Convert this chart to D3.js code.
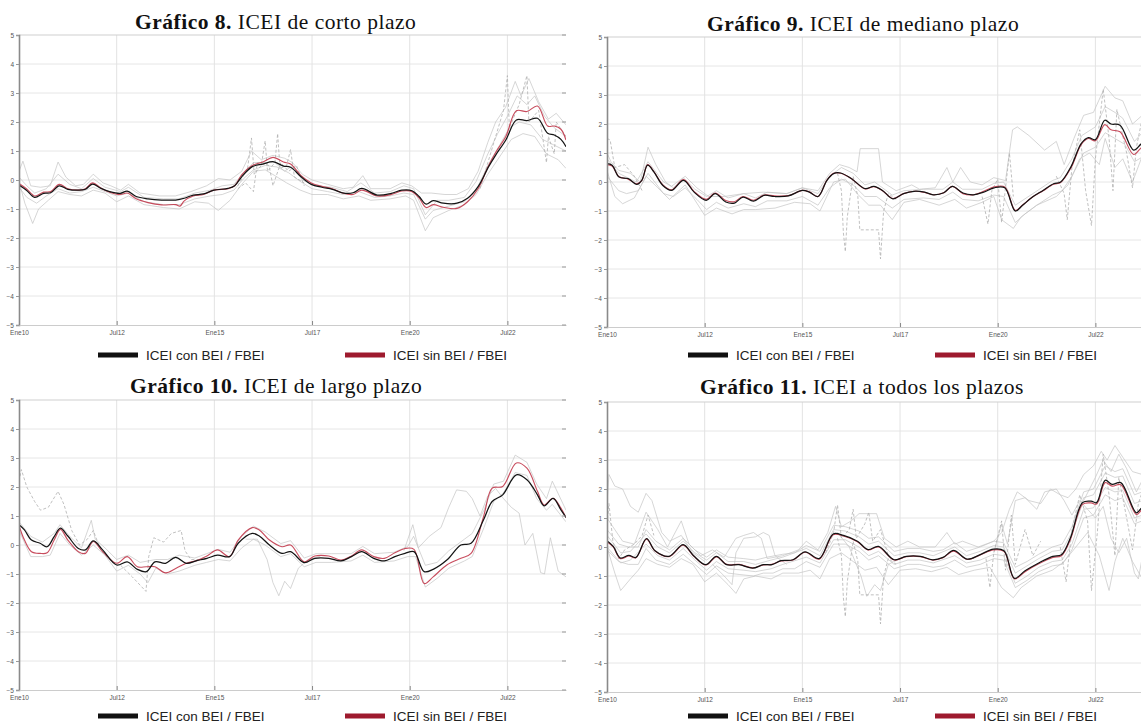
<!DOCTYPE html>
<html>
<head>
<meta charset="utf-8">
<script src="https://cdn.jsdelivr.net/npm/d3@7"></script>
<style>
body { margin: 0; background: #fff; }
svg { display: block; }
</style>
</head>
<body>
<svg id="chart" width="1141" height="726"></svg>
<script>
// tick labels and titles
const tickYears = [2010, 2012.5, 2015, 2017.5, 2020, 2022.5];
const tickLabels = ["Ene10", "Jul12", "Ene15", "Jul17", "Ene20", "Jul22"];
const yTicks = [-5, -4, -3, -2, -1, 0, 1, 2, 3, 4, 5];
const legendLabels = ["ICEI con BEI / FBEI", "ICEI sin BEI / FBEI"];
const titleBold = ["Gráfico 8.", "Gráfico 9.", "Gráfico 10.", "Gráfico 11."];
const titleText = ["ICEI de corto plazo", "ICEI de mediano plazo", "ICEI de largo plazo", "ICEI a todos los plazos"];

// ---- Gráfico 8: corto plazo ([year, value]) ----
const p1Black = [[2010.0,-0.17],[2010.19,-0.35],[2010.4,-0.6],[2010.63,-0.46],[2010.81,-0.44],[2011.03,-0.2],[2011.25,-0.32],[2011.52,-0.35],[2011.7,-0.32],[2011.88,-0.14],[2012.1,-0.29],[2012.32,-0.4],[2012.59,-0.46],[2012.77,-0.38],[2013.0,-0.57],[2013.3,-0.65],[2013.65,-0.69],[2014.01,-0.69],[2014.23,-0.63],[2014.46,-0.52],[2014.72,-0.48],[2014.99,-0.35],[2015.35,-0.29],[2015.52,-0.2],[2015.7,0.11],[2015.97,0.46],[2016.24,0.55],[2016.5,0.63],[2016.77,0.48],[2016.95,0.44],[2017.22,0.11],[2017.48,-0.15],[2017.75,-0.25],[2018.02,-0.32],[2018.28,-0.44],[2018.55,-0.44],[2018.77,-0.29],[2019.17,-0.52],[2019.53,-0.46],[2019.8,-0.35],[2020.06,-0.37],[2020.24,-0.57],[2020.42,-0.83],[2020.6,-0.71],[2020.86,-0.8],[2021.21,-0.8],[2021.48,-0.63],[2021.75,-0.23],[2022.02,0.46],[2022.2,0.86],[2022.46,1.38],[2022.73,2.07],[2023.0,2.05],[2023.27,2.13],[2023.53,1.61],[2023.7,1.55],[2023.87,1.4],[2024.0,1.15]];
const p1Red = [[2010.0,-0.12],[2010.19,-0.3],[2010.4,-0.55],[2010.63,-0.42],[2010.81,-0.4],[2011.03,-0.15],[2011.25,-0.3],[2011.52,-0.35],[2011.7,-0.3],[2011.88,-0.1],[2012.1,-0.28],[2012.32,-0.42],[2012.59,-0.5],[2012.77,-0.45],[2013.0,-0.65],[2013.3,-0.78],[2013.65,-0.86],[2014.01,-0.85],[2014.12,-0.9],[2014.23,-0.72],[2014.46,-0.55],[2014.72,-0.5],[2014.99,-0.35],[2015.35,-0.3],[2015.52,-0.2],[2015.7,0.18],[2015.97,0.5],[2016.24,0.62],[2016.5,0.78],[2016.77,0.62],[2016.95,0.55],[2017.22,0.15],[2017.48,-0.1],[2017.75,-0.22],[2018.02,-0.3],[2018.28,-0.45],[2018.55,-0.5],[2018.77,-0.35],[2019.17,-0.55],[2019.53,-0.5],[2019.8,-0.38],[2020.06,-0.4],[2020.24,-0.62],[2020.42,-0.95],[2020.6,-0.85],[2020.86,-0.94],[2021.21,-0.98],[2021.48,-0.75],[2021.75,-0.3],[2022.02,0.5],[2022.2,0.95],[2022.46,1.5],[2022.73,2.39],[2023.0,2.36],[2023.27,2.55],[2023.53,1.86],[2023.7,1.86],[2023.87,1.75],[2024.0,1.38]];
const p1Gray = [
  [[2010,0.3],[2010.1,0.65],[2010.3,-0.2],[2010.55,-0.25],[2010.8,-0.2],[2011.0,0.62],[2011.2,0.1],[2011.45,-0.2],[2011.65,-0.15],[2011.9,0.2],[2012.15,-0.1],[2012.35,-0.2],[2012.6,-0.35],[2012.8,-0.15],[2013.1,-0.45],[2013.6,-0.55],[2014.0,-0.55],[2014.4,-0.4],[2014.8,-0.2],[2015.1,0.05],[2015.4,0.0],[2015.7,0.3],[2015.95,1.0],[2016.2,0.7],[2016.5,0.85],[2016.8,0.75],[2017.0,0.6],[2017.25,0.2],[2017.5,0.0],[2017.9,-0.15],[2018.3,-0.3],[2018.55,-0.25],[2018.8,0.15],[2019.0,-0.3],[2019.5,-0.3],[2019.8,-0.1],[2020.05,-0.2],[2020.3,-0.45],[2020.55,-0.45],[2020.9,-0.5],[2021.2,-0.5],[2021.5,-0.3],[2021.75,0.3],[2022.0,1.3],[2022.2,2.0],[2022.45,2.5],[2022.7,3.4],[2022.85,2.9],[2023.05,3.5],[2023.3,2.7],[2023.55,2.1],[2023.75,2.3],[2024,1.9]],
  [[2010,-0.05],[2010.15,-0.8],[2010.35,-1.5],[2010.5,-1.0],[2010.75,-0.7],[2011.0,-0.4],[2011.3,-0.5],[2011.6,-0.55],[2011.9,-0.35],[2012.2,-0.45],[2012.5,-0.75],[2012.8,-0.55],[2013.2,-0.85],[2013.7,-0.95],[2014.1,-1.0],[2014.5,-0.75],[2014.85,-0.8],[2015.1,-1.05],[2015.4,-0.7],[2015.7,-0.15],[2016.0,0.3],[2016.3,0.35],[2016.55,0.15],[2016.85,-0.1],[2017.2,-0.35],[2017.5,-0.5],[2017.9,-0.5],[2018.3,-0.65],[2018.7,-0.55],[2019.0,-0.7],[2019.5,-0.65],[2019.9,-0.55],[2020.1,-0.7],[2020.4,-1.75],[2020.6,-1.3],[2021.0,-1.05],[2021.4,-0.85],[2021.7,-0.5],[2022.0,0.2],[2022.3,0.8],[2022.6,1.4],[2022.9,1.6],[2023.2,1.5],[2023.5,0.9],[2023.8,0.7],[2024,0.4]],
  [[2010,0.1],[2010.2,-0.2],[2010.4,-0.45],[2010.7,-0.3],[2011.0,0.2],[2011.3,-0.15],[2011.6,-0.3],[2011.9,0.05],[2012.2,-0.25],[2012.6,-0.4],[2012.8,-0.25],[2013.2,-0.6],[2013.7,-0.65],[2014.1,-0.65],[2014.5,-0.45],[2014.9,-0.35],[2015.2,-0.2],[2015.5,-0.15],[2015.75,0.25],[2016.0,0.6],[2016.3,0.6],[2016.55,0.6],[2016.8,0.3],[2017.0,0.5],[2017.25,0.0],[2017.6,-0.2],[2018.0,-0.25],[2018.4,-0.4],[2018.75,-0.1],[2019.1,-0.45],[2019.5,-0.4],[2019.85,-0.2],[2020.1,-0.3],[2020.4,-1.2],[2020.7,-0.7],[2021.0,-0.7],[2021.4,-0.6],[2021.7,-0.05],[2022.0,0.9],[2022.25,1.6],[2022.5,2.2],[2022.75,2.9],[2023.0,2.6],[2023.2,2.9],[2023.45,2.2],[2023.7,1.8],[2024,1.5]],
  [[2010,-0.25],[2010.2,-0.6],[2010.45,-0.8],[2010.7,-0.55],[2011.0,-0.3],[2011.3,-0.45],[2011.6,-0.4],[2011.9,-0.25],[2012.2,-0.4],[2012.5,-0.55],[2012.8,-0.45],[2013.2,-0.75],[2013.7,-0.85],[2014.1,-0.85],[2014.5,-0.65],[2014.9,-0.55],[2015.2,-0.5],[2015.5,-0.35],[2015.75,0.05],[2016.0,0.35],[2016.3,0.5],[2016.6,0.45],[2016.9,0.25],[2017.2,-0.05],[2017.5,-0.3],[2017.9,-0.4],[2018.3,-0.5],[2018.7,-0.4],[2019.1,-0.6],[2019.5,-0.55],[2019.85,-0.45],[2020.1,-0.5],[2020.4,-1.35],[2020.6,-1.05],[2021.0,-0.9],[2021.4,-0.75],[2021.7,-0.35],[2022.0,0.5],[2022.3,1.2],[2022.55,1.8],[2022.8,2.0],[2023.1,1.9],[2023.4,1.4],[2023.7,1.2],[2024,1.0]]
];
const p1Dash = [
  [[2015.6,-0.2],[2015.85,0.4],[2015.95,1.45],[2016.02,0.2],[2016.2,0.5],[2016.3,1.35],[2016.36,0.3],[2016.55,0.6],[2016.62,1.6],[2016.68,0.4],[2016.85,0.5],[2016.95,1.05],[2017.05,0.1],[2017.3,-0.1]],
  [[2015.6,-0.3],[2015.8,-0.1],[2016.0,-0.4],[2016.1,0.6],[2016.4,0.5],[2016.5,-0.2],[2016.7,0.6],[2016.9,0.3],[2017.1,0.5],[2017.3,-0.2]],
  [[2021.8,-0.3],[2022.0,0.6],[2022.2,1.5],[2022.4,2.4],[2022.5,3.6],[2022.55,1.8],[2022.8,2.6],[2023.0,3.6],[2023.05,2.0],[2023.3,2.4],[2023.5,0.6],[2023.55,1.5],[2023.7,0.9],[2023.75,2.0],[2024,1.5]]
];

// ---- Gráfico 9: mediano plazo ----
const p2Black = [[2010.0,0.63],[2010.13,0.58],[2010.31,0.17],[2010.54,0.12],[2010.76,-0.08],[2010.89,0.06],[2011.04,0.58],[2011.2,0.35],[2011.43,-0.12],[2011.65,-0.29],[2011.96,0.06],[2012.23,-0.35],[2012.54,-0.63],[2012.77,-0.4],[2013.04,-0.69],[2013.26,-0.73],[2013.48,-0.52],[2013.75,-0.66],[2014.02,-0.46],[2014.29,-0.5],[2014.64,-0.48],[2015.0,-0.29],[2015.18,-0.35],[2015.4,-0.5],[2015.63,0.06],[2015.8,0.29],[2015.98,0.31],[2016.25,0.12],[2016.61,-0.23],[2016.83,-0.15],[2017.05,-0.29],[2017.32,-0.58],[2017.59,-0.4],[2017.86,-0.32],[2018.13,-0.35],[2018.35,-0.44],[2018.62,-0.37],[2018.84,-0.15],[2019.11,-0.38],[2019.38,-0.44],[2019.64,-0.35],[2019.91,-0.2],[2020.18,-0.2],[2020.45,-1.0],[2020.63,-0.81],[2020.89,-0.52],[2021.16,-0.29],[2021.43,-0.06],[2021.61,0.0],[2021.88,0.54],[2022.14,1.33],[2022.32,1.53],[2022.5,1.46],[2022.74,2.13],[2022.9,2.0],[2023.13,1.96],[2023.48,1.1],[2023.7,1.33],[2023.82,1.27],[2024.0,1.1]];
const p2Red = [[2010.0,0.6],[2010.13,0.55],[2010.31,0.18],[2010.54,0.1],[2010.76,-0.06],[2010.89,0.05],[2011.04,0.6],[2011.2,0.36],[2011.43,-0.1],[2011.65,-0.27],[2011.96,0.08],[2012.23,-0.33],[2012.54,-0.6],[2012.77,-0.38],[2013.04,-0.64],[2013.26,-0.68],[2013.48,-0.5],[2013.75,-0.63],[2014.02,-0.45],[2014.29,-0.48],[2014.64,-0.47],[2015.0,-0.29],[2015.18,-0.34],[2015.4,-0.5],[2015.63,0.07],[2015.8,0.3],[2015.98,0.3],[2016.25,0.12],[2016.61,-0.24],[2016.83,-0.16],[2017.05,-0.3],[2017.32,-0.57],[2017.59,-0.4],[2017.86,-0.32],[2018.13,-0.36],[2018.35,-0.44],[2018.62,-0.37],[2018.84,-0.15],[2019.11,-0.4],[2019.38,-0.44],[2019.64,-0.32],[2019.91,-0.17],[2020.18,-0.17],[2020.45,-0.98],[2020.63,-0.8],[2020.89,-0.52],[2021.16,-0.3],[2021.43,-0.08],[2021.61,-0.02],[2021.88,0.5],[2022.14,1.3],[2022.32,1.5],[2022.5,1.42],[2022.74,1.98],[2022.9,1.8],[2023.13,1.73],[2023.48,0.95],[2023.7,1.2],[2023.82,1.1],[2024.0,1.0]];
const p2Gray = [
  [[2010,1.0],[2010.1,0.7],[2010.3,0.4],[2010.6,0.3],[2010.85,0.0],[2011.05,1.2],[2011.25,0.6],[2011.5,0.0],[2011.7,-0.2],[2012.0,0.2],[2012.3,-0.2],[2012.6,-0.5],[2013.0,-0.5],[2013.5,-0.4],[2014.0,-0.35],[2014.6,-0.4],[2015.0,-0.2],[2015.4,-0.3],[2015.7,0.3],[2015.95,0.6],[2016.2,0.5],[2016.4,0.35],[2016.48,1.15],[2016.95,1.15],[2017.05,0.0],[2017.4,-0.3],[2017.8,-0.1],[2018.0,-0.25],[2018.4,-0.2],[2018.7,0.5],[2018.85,0.0],[2019.05,0.5],[2019.3,0.0],[2019.6,-0.1],[2019.9,0.15],[2020.2,0.05],[2020.38,1.8],[2020.5,1.9],[2020.8,1.6],[2021.2,1.1],[2021.5,1.4],[2021.7,0.6],[2021.95,1.5],[2022.2,2.3],[2022.45,2.4],[2022.75,3.3],[2023.0,2.9],[2023.2,2.8],[2023.45,2.0],[2023.7,2.3],[2024,1.8]],
  [[2010,0.4],[2010.2,-0.5],[2010.4,-0.75],[2010.7,-0.55],[2011.0,0.2],[2011.3,-0.2],[2011.6,-0.6],[2012.0,-0.1],[2012.5,-1.15],[2012.8,-0.9],[2013.2,-1.1],[2013.5,-0.95],[2013.8,-0.95],[2014.3,-0.9],[2014.8,-0.7],[2015.2,-0.75],[2015.45,-1.0],[2015.8,0.0],[2016.1,0.1],[2016.4,-0.4],[2016.7,-0.8],[2017.0,-0.8],[2017.3,-1.3],[2017.6,-0.7],[2018.0,-0.6],[2018.5,-0.8],[2018.9,-0.6],[2019.2,-0.9],[2019.6,-0.7],[2019.9,-0.5],[2020.1,-1.3],[2020.4,-1.6],[2020.6,-1.2],[2021.0,-0.8],[2021.5,-0.5],[2021.8,-0.1],[2022.1,0.8],[2022.35,1.0],[2022.6,0.6],[2022.75,1.5],[2023.0,0.5],[2023.2,0.8],[2023.45,0.0],[2023.7,0.9],[2024,0.6]],
  [[2010,0.8],[2010.3,0.3],[2010.75,0.0],[2011.05,0.7],[2011.45,0.0],[2011.65,-0.15],[2011.95,0.15],[2012.25,-0.25],[2012.55,-0.5],[2012.8,-0.3],[2013.1,-0.55],[2013.5,-0.4],[2013.8,-0.55],[2014.1,-0.35],[2014.6,-0.4],[2015.0,-0.2],[2015.4,-0.4],[2015.7,0.2],[2016.0,0.5],[2016.3,0.3],[2016.6,-0.1],[2016.85,0.0],[2017.3,-0.45],[2017.6,-0.3],[2018.1,-0.25],[2018.6,-0.25],[2018.85,0.0],[2019.1,-0.25],[2019.6,-0.25],[2019.9,-0.05],[2020.15,0.0],[2020.45,-0.8],[2020.9,-0.4],[2021.4,0.05],[2021.6,0.15],[2021.9,0.8],[2022.15,1.6],[2022.5,1.9],[2022.75,2.6],[2023.0,2.4],[2023.2,2.2],[2023.5,1.4],[2023.7,1.7],[2024,1.4]],
  [[2010,0.2],[2010.3,-0.3],[2010.5,-0.4],[2010.8,-0.3],[2011.05,0.3],[2011.45,-0.4],[2011.7,-0.5],[2012.0,-0.2],[2012.3,-0.6],[2012.55,-0.95],[2012.8,-0.7],[2013.1,-0.9],[2013.5,-0.75],[2013.8,-0.85],[2014.1,-0.65],[2014.6,-0.65],[2015.0,-0.5],[2015.4,-0.8],[2015.7,-0.2],[2016.0,0.1],[2016.3,-0.1],[2016.6,-0.5],[2016.9,-0.5],[2017.3,-0.9],[2017.6,-0.6],[2018.1,-0.55],[2018.5,-0.6],[2018.85,-0.35],[2019.1,-0.6],[2019.5,-0.65],[2019.9,-0.45],[2020.15,-0.5],[2020.45,-1.4],[2020.7,-1.1],[2021.0,-0.8],[2021.4,-0.45],[2021.65,-0.3],[2021.9,0.2],[2022.2,1.0],[2022.5,1.2],[2022.75,1.7],[2023.0,1.5],[2023.25,1.3],[2023.5,0.7],[2023.75,0.9],[2024,0.8]]
];
const p2Dash = [
  [[2010,1.5],[2010.08,1.45],[2010.2,0.5],[2010.45,0.6],[2010.7,0.2],[2010.9,-0.3]],
  [[2015.9,0.3],[2016.0,-0.3],[2016.05,-1.75],[2016.1,-2.4],[2016.15,-1.2],[2016.3,0.2],[2016.42,-0.5],[2016.47,-1.65],[2016.95,-1.65],[2017.0,-2.65],[2017.08,-1.0],[2017.2,-0.4],[2017.4,-0.6]],
  [[2019.6,-0.5],[2019.75,-1.45],[2019.85,-0.3],[2020.0,0.1],[2020.1,-1.4],[2020.2,-0.2],[2020.3,1.0],[2020.4,-0.5]],
  [[2021.5,0.2],[2021.7,-0.4],[2021.78,-1.3],[2021.9,0.5],[2022.1,1.8],[2022.25,-0.3],[2022.4,-1.5],[2022.5,0.8],[2022.7,3.2],[2022.85,1.5],[2022.95,-0.3],[2023.05,2.5],[2023.3,1.0],[2023.45,-0.2],[2023.55,1.2],[2023.7,2.2]]
];

// ---- Gráfico 10: largo plazo ----
const p3Black = [[2010.01,0.69],[2010.14,0.52],[2010.32,0.17],[2010.54,0.06],[2010.72,-0.06],[2010.9,0.29],[2011.06,0.58],[2011.25,0.31],[2011.52,-0.12],[2011.7,-0.17],[2011.9,0.14],[2012.14,-0.17],[2012.5,-0.69],[2012.77,-0.58],[2013.03,-0.84],[2013.26,-0.92],[2013.48,-0.58],[2013.75,-0.63],[2014.01,-0.43],[2014.28,-0.63],[2014.55,-0.54],[2014.81,-0.46],[2015.08,-0.35],[2015.39,-0.4],[2015.61,0.06],[2015.97,0.4],[2016.15,0.31],[2016.41,0.0],[2016.73,-0.29],[2016.95,-0.23],[2017.3,-0.61],[2017.57,-0.46],[2017.93,-0.46],[2018.24,-0.55],[2018.51,-0.4],[2018.77,-0.23],[2019.08,-0.46],[2019.35,-0.55],[2019.62,-0.4],[2019.88,-0.29],[2020.11,-0.23],[2020.37,-0.92],[2020.6,-0.84],[2020.95,-0.52],[2021.31,0.0],[2021.57,0.06],[2021.89,0.87],[2022.11,1.5],[2022.38,1.73],[2022.73,2.42],[2023.0,2.25],[2023.27,1.73],[2023.44,1.35],[2023.67,1.61],[2023.87,1.21],[2024.0,0.95]];
const p3Red = [[2010.01,0.63],[2010.14,0.17],[2010.32,-0.23],[2010.54,-0.29],[2010.72,-0.27],[2010.9,0.17],[2011.06,0.54],[2011.25,0.17],[2011.52,-0.23],[2011.7,-0.29],[2011.9,0.12],[2012.14,-0.23],[2012.5,-0.63],[2012.77,-0.4],[2013.03,-0.75],[2013.26,-0.75],[2013.48,-0.75],[2013.75,-0.96],[2014.01,-0.81],[2014.28,-0.63],[2014.55,-0.54],[2014.81,-0.38],[2015.08,-0.17],[2015.39,-0.4],[2015.61,0.17],[2015.97,0.6],[2016.15,0.52],[2016.41,0.17],[2016.73,-0.06],[2016.95,0.0],[2017.3,-0.58],[2017.57,-0.38],[2017.93,-0.38],[2018.24,-0.52],[2018.51,-0.38],[2018.77,-0.17],[2019.08,-0.4],[2019.35,-0.46],[2019.62,-0.27],[2019.88,-0.12],[2020.11,-0.15],[2020.37,-1.33],[2020.6,-1.1],[2020.95,-0.69],[2021.31,-0.46],[2021.57,-0.29],[2021.89,0.98],[2022.11,1.96],[2022.38,2.02],[2022.73,2.83],[2023.0,2.65],[2023.27,1.85],[2023.44,1.38],[2023.67,1.61],[2023.87,1.27],[2024.0,0.95]];
const p3Gray = [
  [[2015.8,0.2],[2016.1,0.2],[2016.35,-0.5],[2016.5,-1.3],[2016.65,-1.75],[2016.8,-1.25],[2016.95,-1.5],[2017.15,-0.8],[2017.4,-0.5],[2017.7,-0.4]],
  [[2019.85,-0.2],[2020.08,0.7],[2020.22,-0.1],[2020.5,0.3],[2020.8,0.6],[2021.0,1.3],[2021.2,1.9],[2021.45,1.85],[2021.6,1.6],[2021.8,1.0],[2022.0,1.7],[2022.2,1.95],[2022.4,1.6],[2022.6,1.3],[2022.8,1.1],[2022.95,0.0],[2023.15,0.4],[2023.35,-0.95],[2023.45,-1.0],[2023.6,0.25],[2023.8,-0.9],[2024,-1.1]],
  [[2010,0.8],[2010.3,0.3],[2010.6,0.1],[2010.9,0.4],[2011.05,0.7],[2011.3,0.3],[2011.6,-0.1],[2011.85,0.85],[2011.95,0.2],[2012.2,-0.1],[2012.5,-0.5],[2012.8,-0.35],[2013.1,-0.6],[2013.5,-0.5],[2013.8,-0.5],[2014.1,-0.35],[2014.5,-0.45],[2014.8,-0.3],[2015.1,-0.15],[2015.4,-0.25],[2015.7,0.3],[2016.0,0.65],[2016.3,0.45],[2016.7,0.05],[2016.95,0.15],[2017.3,-0.45],[2017.6,-0.3],[2018.0,-0.3],[2018.5,-0.3],[2018.8,-0.05],[2019.1,-0.3],[2019.6,-0.25],[2019.95,-0.05],[2020.1,0.3],[2020.4,-0.7],[2020.7,-0.6],[2021.0,-0.2],[2021.4,0.2],[2021.6,0.4],[2021.9,1.2],[2022.15,2.1],[2022.4,2.2],[2022.7,3.1],[2023.0,2.85],[2023.25,2.1],[2023.5,1.6],[2023.65,2.2],[2024,1.2]],
  [[2010,0.5],[2010.3,-0.4],[2010.6,-0.4],[2010.8,-0.35],[2011.05,0.4],[2011.3,0.0],[2011.6,-0.35],[2011.9,0.0],[2012.2,-0.35],[2012.5,-0.9],[2012.8,-0.7],[2013.1,-1.0],[2013.3,-1.3],[2013.5,-0.8],[2013.8,-1.0],[2014.1,-0.9],[2014.5,-0.7],[2014.8,-0.6],[2015.1,-0.5],[2015.4,-0.55],[2015.7,-0.1],[2016.0,0.2],[2016.3,0.0],[2016.7,-0.4],[2016.95,-0.3],[2017.3,-0.75],[2017.6,-0.6],[2018.0,-0.6],[2018.5,-0.55],[2018.8,-0.35],[2019.1,-0.6],[2019.6,-0.55],[2019.95,-0.4],[2020.15,-0.4],[2020.4,-1.45],[2020.7,-1.15],[2021.0,-0.8],[2021.4,-0.55],[2021.6,-0.4],[2021.9,0.6],[2022.15,1.5],[2022.4,1.8],[2022.7,2.5],[2023.0,2.4],[2023.25,1.6],[2023.5,1.2],[2023.65,1.4],[2024,0.8]]
];
const p3Dash = [
  [[2010,2.2],[2010.06,2.6],[2010.2,2.0],[2010.4,1.5],[2010.55,1.2],[2010.75,1.3],[2011.0,1.85],[2011.15,1.4],[2011.35,0.5],[2011.55,0.0],[2011.75,0.2],[2011.9,0.5],[2012.1,-0.2],[2012.4,-0.6]],
  [[2012.6,-0.7],[2012.9,-1.1],[2013.25,-1.6],[2013.32,-0.4],[2013.45,0.25],[2013.7,0.1],[2013.9,0.4],[2014.15,0.5],[2014.25,-0.2],[2014.4,-0.5],[2014.7,-0.5]]
];

// ---- Gráfico 11: todos los plazos ----
const p4Black = [[2010.0,0.22],[2010.16,0.02],[2010.34,-0.38],[2010.56,-0.29],[2010.74,-0.36],[2011.01,0.29],[2011.23,-0.13],[2011.59,-0.32],[2011.95,0.08],[2012.21,-0.29],[2012.53,-0.61],[2012.8,-0.32],[2013.06,-0.61],[2013.38,-0.61],[2013.73,-0.73],[2014.0,-0.61],[2014.22,-0.61],[2014.45,-0.47],[2014.76,-0.44],[2015.07,-0.17],[2015.43,-0.4],[2015.79,0.45],[2016.05,0.4],[2016.41,0.2],[2016.68,-0.09],[2016.95,0.02],[2017.35,-0.44],[2017.66,-0.32],[2018.02,-0.32],[2018.33,-0.44],[2018.6,-0.36],[2018.87,-0.12],[2019.22,-0.42],[2019.54,-0.27],[2019.89,-0.07],[2020.16,-0.13],[2020.43,-1.08],[2020.7,-0.82],[2021.05,-0.55],[2021.41,-0.32],[2021.63,-0.27],[2021.86,0.31],[2022.17,1.53],[2022.39,1.58],[2022.53,1.53],[2022.75,2.3],[2022.93,2.16],[2023.15,2.22],[2023.55,1.18],[2023.69,1.35],[2023.8,1.38],[2024.0,1.25]];
const p4Red = [[2010.0,0.18],[2010.16,0.0],[2010.34,-0.4],[2010.56,-0.31],[2010.74,-0.37],[2011.01,0.27],[2011.23,-0.14],[2011.59,-0.33],[2011.95,0.06],[2012.21,-0.3],[2012.53,-0.62],[2012.8,-0.34],[2013.06,-0.6],[2013.38,-0.6],[2013.73,-0.72],[2014.0,-0.62],[2014.22,-0.6],[2014.45,-0.48],[2014.76,-0.45],[2015.07,-0.18],[2015.43,-0.42],[2015.79,0.42],[2016.05,0.38],[2016.41,0.18],[2016.68,-0.1],[2016.95,0.0],[2017.35,-0.45],[2017.66,-0.33],[2018.02,-0.33],[2018.33,-0.45],[2018.6,-0.37],[2018.87,-0.14],[2019.22,-0.43],[2019.54,-0.28],[2019.89,-0.1],[2020.16,-0.15],[2020.43,-1.1],[2020.7,-0.85],[2021.05,-0.58],[2021.41,-0.36],[2021.63,-0.3],[2021.86,0.26],[2022.17,1.47],[2022.39,1.52],[2022.53,1.48],[2022.75,2.22],[2022.93,2.1],[2023.15,2.15],[2023.55,1.12],[2023.69,1.28],[2023.8,1.3],[2024.0,1.2]];
const p4Gray = [
  [[2010,1.5],[2010.05,2.5],[2010.2,2.1],[2010.4,2.0],[2010.6,1.4],[2010.8,1.2],[2011.0,1.85],[2011.15,1.6],[2011.4,0.5],[2011.6,0.2],[2011.9,0.4],[2012.2,-0.2],[2012.5,-0.5]],
  [[2010,1.0],[2010.2,0.6],[2010.4,0.2],[2010.7,0.1],[2011.0,1.2],[2011.3,0.6],[2011.55,0.0],[2011.9,0.9],[2012.1,0.1],[2012.4,-0.3],[2012.7,-0.1],[2013.0,-0.35],[2013.3,0.3],[2013.5,0.4],[2013.75,0.5],[2013.95,0.3],[2014.1,-0.4],[2014.5,-0.3],[2014.9,-0.1],[2015.1,0.2],[2015.4,-0.1],[2015.65,0.5],[2015.85,1.4],[2016.0,0.7],[2016.25,0.9],[2016.45,1.15],[2016.9,1.15],[2017.1,0.3],[2017.4,0.0],[2017.7,0.2],[2018.0,0.0],[2018.4,0.0],[2018.7,0.5],[2018.9,0.1],[2019.1,0.2],[2019.5,0.0],[2019.9,0.2],[2020.1,0.5],[2020.3,1.3],[2020.5,1.9],[2020.8,1.6],[2021.1,1.5],[2021.35,2.0],[2021.6,1.8],[2021.8,1.7],[2022.0,2.0],[2022.2,2.5],[2022.45,2.8],[2022.65,3.3],[2022.8,3.0],[2023.0,3.5],[2023.2,3.1],[2023.45,2.6],[2023.7,2.5],[2024,2.2]],
  [[2010,0.0],[2010.2,-0.9],[2010.35,-1.5],[2010.6,-1.1],[2010.8,-0.8],[2011.0,-0.4],[2011.3,-0.6],[2011.6,-0.7],[2011.9,-0.4],[2012.2,-0.6],[2012.5,-1.2],[2012.8,-0.9],[2013.1,-1.3],[2013.3,-1.6],[2013.5,-1.1],[2013.8,-1.0],[2014.2,-1.1],[2014.5,-0.9],[2014.9,-0.9],[2015.2,-0.8],[2015.45,-1.1],[2015.7,-0.4],[2016.0,-0.2],[2016.3,-0.5],[2016.6,-0.8],[2016.9,-0.7],[2017.2,-1.3],[2017.5,-0.8],[2017.9,-0.75],[2018.3,-0.85],[2018.7,-0.7],[2019.0,-0.95],[2019.4,-0.8],[2019.8,-0.7],[2020.1,-1.4],[2020.4,-1.75],[2020.6,-1.4],[2021.0,-1.0],[2021.4,-0.8],[2021.7,-0.5],[2022.0,0.0],[2022.3,0.5],[2022.6,-0.3],[2022.85,-1.5],[2023.0,-0.5],[2023.2,0.3],[2023.45,-0.5],[2023.7,-1.1],[2024,-0.8]],
  [[2010,0.6],[2010.3,0.1],[2010.55,0.0],[2010.8,0.0],[2011.0,0.6],[2011.25,0.2],[2011.6,-0.1],[2011.95,0.3],[2012.25,-0.1],[2012.55,-0.35],[2012.8,-0.1],[2013.1,-0.35],[2013.5,-0.4],[2013.8,-0.45],[2014.1,-0.35],[2014.5,-0.25],[2014.8,-0.2],[2015.1,0.05],[2015.45,-0.15],[2015.8,0.75],[2016.1,0.7],[2016.45,0.55],[2016.7,0.3],[2016.95,0.35],[2017.35,-0.15],[2017.7,-0.05],[2018.0,-0.05],[2018.35,-0.15],[2018.6,-0.1],[2018.9,0.15],[2019.2,-0.15],[2019.55,0.0],[2019.9,0.2],[2020.15,0.15],[2020.45,-0.7],[2020.75,-0.5],[2021.05,-0.25],[2021.4,0.0],[2021.65,0.1],[2021.9,0.7],[2022.2,1.9],[2022.45,2.0],[2022.75,2.8],[2023.0,2.6],[2023.2,2.7],[2023.5,1.8],[2023.7,1.9],[2024,1.7]],
  [[2010,-0.1],[2010.3,-0.5],[2010.55,-0.6],[2010.8,-0.6],[2011.0,-0.05],[2011.25,-0.45],[2011.6,-0.6],[2011.95,-0.25],[2012.25,-0.6],[2012.55,-0.95],[2012.8,-0.65],[2013.1,-0.9],[2013.4,-0.95],[2013.75,-1.0],[2014.0,-0.9],[2014.25,-0.9],[2014.5,-0.75],[2014.8,-0.75],[2015.1,-0.5],[2015.45,-0.7],[2015.8,0.1],[2016.1,0.1],[2016.45,-0.15],[2016.7,-0.45],[2016.95,-0.3],[2017.35,-0.75],[2017.7,-0.6],[2018.0,-0.6],[2018.35,-0.7],[2018.6,-0.65],[2018.9,-0.45],[2019.2,-0.7],[2019.55,-0.6],[2019.9,-0.4],[2020.15,-0.45],[2020.45,-1.4],[2020.75,-1.15],[2021.05,-0.85],[2021.4,-0.65],[2021.65,-0.6],[2021.9,-0.1],[2022.2,1.0],[2022.45,1.1],[2022.75,1.8],[2023.0,1.6],[2023.2,1.7],[2023.5,0.8],[2023.7,0.9],[2024,0.8]],
  [[2019.9,-0.2],[2020.1,0.8],[2020.25,0.1],[2020.45,1.6],[2020.7,1.7],[2021.0,1.3],[2021.2,1.9],[2021.5,2.0],[2021.7,1.6],[2021.9,1.1],[2022.1,1.6],[2022.3,1.3],[2022.5,1.0],[2022.7,1.4],[2022.9,0.3],[2023.1,-0.2],[2023.3,0.3],[2023.5,-0.9],[2023.6,-1.1],[2023.8,0.4],[2024,0.2]],
  [[2012.7,-0.6],[2013.0,-1.0],[2013.2,-1.3],[2013.3,-0.2],[2013.5,0.3],[2013.8,0.35],[2014.0,0.5],[2014.15,0.4],[2014.3,-0.3],[2014.6,-0.6]],
  [[2015.9,0.5],[2016.2,0.0],[2016.5,-1.0],[2016.65,-1.7],[2016.85,-1.3],[2017.0,-1.5],[2017.2,-0.6],[2017.5,-0.4]],
  [[2021.9,0.5],[2022.2,1.6],[2022.5,2.4],[2022.7,3.0],[2022.9,2.6],[2023.1,3.2],[2023.3,2.7],[2023.55,1.9],[2023.7,2.3],[2024,1.9]],
  [[2010,0.4],[2010.35,-0.2],[2010.6,-0.15],[2011.0,0.45],[2011.3,0.0],[2011.6,-0.2],[2011.95,0.2],[2012.25,-0.2],[2012.55,-0.45],[2012.8,-0.2],[2013.1,-0.5],[2013.5,-0.5],[2013.8,-0.6],[2014.2,-0.45],[2014.5,-0.35],[2015.1,-0.05],[2015.45,-0.3],[2015.8,0.6],[2016.1,0.55],[2016.45,0.35],[2016.7,0.1],[2016.95,0.2],[2017.35,-0.3],[2017.7,-0.2],[2018.0,-0.2],[2018.35,-0.3],[2018.9,0.0],[2019.2,-0.3],[2019.55,-0.15],[2019.9,0.05],[2020.15,0.0],[2020.45,-0.9],[2020.75,-0.65],[2021.05,-0.4],[2021.4,-0.15],[2021.65,-0.1],[2021.9,0.5],[2022.2,1.7],[2022.45,1.8],[2022.75,2.55],[2023.0,2.4],[2023.2,2.45],[2023.5,1.5],[2023.7,1.6],[2024,1.5]],
  [[2010,0.0],[2010.35,-0.55],[2010.6,-0.45],[2011.0,0.1],[2011.3,-0.3],[2011.6,-0.45],[2011.95,-0.05],[2012.25,-0.45],[2012.55,-0.8],[2012.8,-0.5],[2013.1,-0.75],[2013.5,-0.8],[2013.8,-0.85],[2014.2,-0.75],[2014.5,-0.6],[2015.1,-0.35],[2015.45,-0.55],[2015.8,0.25],[2016.1,0.25],[2016.45,0.0],[2016.7,-0.3],[2016.95,-0.15],[2017.35,-0.6],[2017.7,-0.45],[2018.0,-0.45],[2018.35,-0.55],[2018.9,-0.3],[2019.2,-0.55],[2019.55,-0.45],[2019.9,-0.25],[2020.15,-0.3],[2020.45,-1.25],[2020.75,-1.0],[2021.05,-0.7],[2021.4,-0.5],[2021.65,-0.45],[2021.9,0.1],[2022.2,1.3],[2022.45,1.35],[2022.75,2.05],[2023.0,1.9],[2023.2,1.95],[2023.5,1.0],[2023.7,1.1],[2024,1.0]]
];
const p4Dash = [
  [[2015.9,0.3],[2016.0,-0.3],[2016.05,-1.75],[2016.1,-2.4],[2016.15,-1.2],[2016.3,0.2],[2016.42,-0.5],[2016.47,-1.65],[2016.95,-1.65],[2017.0,-2.65],[2017.08,-1.0],[2017.2,-0.4],[2017.4,-0.6]],
  [[2015.6,-0.2],[2015.8,0.5],[2015.9,1.45],[2016.0,0.3],[2016.2,0.6],[2016.3,1.3],[2016.38,0.3],[2016.6,0.8],[2016.7,1.2],[2016.8,0.2],[2017.0,0.6],[2017.2,-0.3]],
  [[2019.7,-0.4],[2019.8,-1.4],[2019.9,-0.2],[2020.1,0.9],[2020.2,-0.8],[2020.35,1.1],[2020.45,-0.6],[2020.7,0.6],[2020.9,-0.3],[2021.1,0.2]],
  [[2021.6,0.0],[2021.75,-1.2],[2021.9,0.6],[2022.1,1.8],[2022.3,0.9],[2022.4,-1.5],[2022.55,0.5],[2022.7,3.2],[2022.85,1.8],[2023.0,-0.3],[2023.1,2.4],[2023.3,1.0],[2023.45,-0.1],[2023.6,1.5],[2023.8,2.3]],
  [[2010,0.8],[2010.05,1.5],[2010.15,0.2],[2010.3,-0.4],[2010.45,-0.1],[2010.7,0.1],[2010.9,0.4],[2011.05,1.1],[2011.2,0.4]]
];

const panels = [
  { x0: 19, x1: 566, y0: 35, y1: 325, tx: 135, ty: 29, legX: 98, legX2: 345, legY: 355,
    black: p1Black, red: p1Red, gray: p1Gray, dash: p1Dash },
  { x0: 607, x1: 1154, y0: 37, y1: 327, tx: 707, ty: 31, legX: 688, legX2: 935, legY: 355,
    black: p2Black, red: p2Red, gray: p2Gray, dash: p2Dash },
  { x0: 19, x1: 566, y0: 400, y1: 690, tx: 130, ty: 393, legX: 98, legX2: 345, legY: 716,
    black: p3Black, red: p3Red, gray: p3Gray, dash: p3Dash },
  { x0: 607, x1: 1154, y0: 402, y1: 692, tx: 700, ty: 394, legX: 688, legX2: 935, legY: 716,
    black: p4Black, red: p4Red, gray: p4Gray, dash: p4Dash }
];

const svg = d3.select("#chart");

function drawPanel(p, i) {
    const x = d3.scaleLinear().domain([2010, 2024]).range([p.x0, p.x1]);
    const y = d3.scaleLinear().domain([-5, 5]).range([p.y1, p.y0]);
    const g = svg.append("g");

    // title
    const t = g.append("text")
        .attr("x", p.tx).attr("y", p.ty)
        .attr("font-family", "'Liberation Serif', 'Times New Roman', serif")
        .attr("font-size", 21.5)
        .attr("letter-spacing", 0.5)
        .attr("fill", "#111");
    t.append("tspan").attr("font-weight", "bold").text(titleBold[i]);
    t.append("tspan").text(" " + titleText[i]);

    // grid
    g.append("g").selectAll("line").data(yTicks.slice(1, -1)).join("line")
        .attr("x1", p.x0).attr("x2", p.x1)
        .attr("y1", d => y(d)).attr("y2", d => y(d))
        .attr("stroke", "#e6e6e6").attr("stroke-width", 1);
    g.append("g").selectAll("line").data(tickYears.slice(1)).join("line")
        .attr("x1", d => x(d)).attr("x2", d => x(d))
        .attr("y1", p.y0).attr("y2", p.y1)
        .attr("stroke", "#e3e3e3").attr("stroke-width", 1);

    // frame top
    g.append("line").attr("x1", p.x0).attr("x2", p.x1).attr("y1", p.y0).attr("y2", p.y0)
        .attr("stroke", "#cfcfcf");

    // clip
    const clipId = "clip" + i;
    svg.append("clipPath").attr("id", clipId).append("rect")
        .attr("x", p.x0).attr("y", p.y0).attr("width", p.x1 - p.x0).attr("height", p.y1 - p.y0);
    const plot = g.append("g").attr("clip-path", `url(#${clipId})`);

    const grayLine = d3.line().x(d => x(d[0])).y(d => y(d[1]));
    const mainLine = d3.line().x(d => x(d[0])).y(d => y(d[1])).curve(d3.curveCatmullRom.alpha(0.5));

    plot.selectAll(".gray").data(p.gray).join("path")
        .attr("d", grayLine).attr("fill", "none")
        .attr("stroke", "#c2c2c2").attr("stroke-width", 0.8).attr("stroke-opacity", 0.85);
    plot.selectAll(".dash").data(p.dash).join("path")
        .attr("d", grayLine).attr("fill", "none")
        .attr("stroke", "#b0b0b0").attr("stroke-width", 0.8)
        .attr("stroke-dasharray", "3,2");

    plot.append("path").datum(p.red).attr("d", mainLine).attr("fill", "none")
        .attr("stroke", "#c23a4c").attr("stroke-width", 1.15).attr("stroke-opacity", 0.9);
    plot.append("path").datum(p.black).attr("d", mainLine).attr("fill", "none")
        .attr("stroke", "#141414").attr("stroke-width", 1.25);

    // axes
    const yAxis = g.append("g").attr("transform", `translate(${p.x0},0)`)
        .call(d3.axisLeft(y).tickValues(yTicks).tickSize(3).tickPadding(2));
    yAxis.select(".domain").attr("stroke", "#8a8a8a").attr("stroke-width", 1.6);
    yAxis.selectAll(".tick line").attr("stroke", "#999");
    yAxis.selectAll(".tick text").attr("font-size", 6.5).attr("fill", "#555")
        .attr("font-family", "'Liberation Sans', Arial, sans-serif");

    const xAxis = g.append("g").attr("transform", `translate(0,${p.y1})`)
        .call(d3.axisBottom(x).tickValues(tickYears).tickFormat((d, k) => tickLabels[k])
            .tickSizeInner(-4).tickSizeOuter(0).tickPadding(5));
    xAxis.select(".domain").attr("stroke", "#cccccc");
    xAxis.selectAll(".tick line").attr("stroke", "#888");
    xAxis.selectAll(".tick text").attr("font-size", 6.5).attr("fill", "#555")
        .attr("font-family", "'Liberation Sans', Arial, sans-serif");

    // right side ticks (inside)
    if (p.x1 < 1141) {
        g.append("g").selectAll("line").data(yTicks).join("line")
            .attr("x1", p.x1 - 4).attr("x2", p.x1)
            .attr("y1", d => y(d)).attr("y2", d => y(d))
            .attr("stroke", "#999");
    }

    // legend
    const leg = [[p.legX, "#111111"], [p.legX2, "#9e1a2e"]];
    leg.forEach((l, k) => {
        g.append("line").attr("x1", l[0]).attr("x2", l[0] + 40)
            .attr("y1", p.legY).attr("y2", p.legY)
            .attr("stroke", l[1]).attr("stroke-width", 5);
        g.append("text").attr("x", l[0] + 48).attr("y", p.legY + 5)
            .attr("font-family", "'Liberation Sans', Arial, sans-serif")
            .attr("font-size", 13.5).attr("fill", "#222")
            .text(legendLabels[k]);
    });
}

panels.forEach(drawPanel);
</script>
</body>
</html>
